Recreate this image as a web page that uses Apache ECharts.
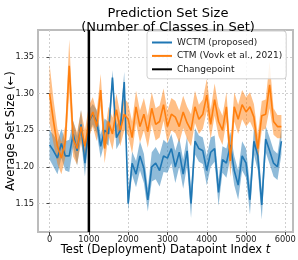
<!DOCTYPE html>
<html><head><meta charset="utf-8">
<script src="https://cdn.jsdelivr.net/npm/echarts@6/dist/echarts.min.js"></script>
<style>html,body{margin:0;padding:0;background:#fff}#c{width:298px;height:260px}</style>
</head><body><div id="c"></div>
<script>
const xIndex = [0,100,200,300,400,500,600,700,800,900,1000,1100,1200,1300,1400,1500,1600,1700,1800,1900,2000,2100,2200,2300,2400,2500,2600,2700,2800,2900,3000,3100,3200,3300,3400,3500,3600,3700,3800,3900,4000,4100,4200,4300,4400,4500,4600,4700,4800,4900,5000,5100,5200,5300,5400,5500,5600,5700,5800,5900];
const wctm = [1.230,1.222,1.212,1.232,1.215,1.215,1.245,1.222,1.258,1.205,1.262,1.272,1.262,1.228,1.250,1.245,1.322,1.240,1.250,1.316,1.150,1.205,1.190,1.215,1.198,1.155,1.200,1.205,1.195,1.215,1.212,1.225,1.200,1.220,1.190,1.222,1.150,1.235,1.225,1.222,1.195,1.220,1.225,1.165,1.210,1.205,1.230,1.195,1.175,1.215,1.205,1.155,1.235,1.215,1.148,1.238,1.222,1.205,1.200,1.235];
const wctmErr = [0.020,0.022,0.022,0.020,0.020,0.022,0.018,0.020,0.020,0.018,0.016,0.014,0.016,0.016,0.016,0.016,0.010,0.016,0.016,0.014,0.010,0.016,0.018,0.020,0.020,0.016,0.020,0.022,0.022,0.022,0.020,0.020,0.022,0.020,0.020,0.020,0.020,0.018,0.018,0.018,0.020,0.020,0.018,0.018,0.018,0.020,0.018,0.020,0.020,0.020,0.020,0.020,0.018,0.020,0.020,0.018,0.018,0.018,0.018,0.018];
const ctm = [1.300,1.262,1.228,1.212,1.235,1.338,1.238,1.225,1.255,1.228,1.262,1.275,1.255,1.305,1.225,1.262,1.245,1.278,1.250,1.272,1.265,1.240,1.282,1.255,1.272,1.248,1.280,1.258,1.262,1.285,1.255,1.272,1.268,1.255,1.275,1.260,1.250,1.282,1.265,1.272,1.298,1.258,1.292,1.262,1.250,1.282,1.208,1.282,1.265,1.285,1.275,1.282,1.268,1.225,1.270,1.272,1.312,1.262,1.255,1.255];
const ctmErr = [0.040,0.030,0.024,0.022,0.022,0.036,0.024,0.022,0.022,0.022,0.022,0.020,0.020,0.022,0.020,0.020,0.022,0.022,0.022,0.022,0.022,0.022,0.022,0.022,0.022,0.022,0.022,0.022,0.022,0.022,0.022,0.022,0.022,0.022,0.022,0.022,0.022,0.022,0.020,0.020,0.022,0.020,0.022,0.020,0.020,0.020,0.022,0.020,0.020,0.020,0.020,0.020,0.018,0.020,0.020,0.020,0.032,0.018,0.016,0.016];
const changepoint = 1000;
const xTicks = [0,1000,2000,3000,4000,5000,6000];
const yTicks = [1.15,1.20,1.25,1.30,1.35];
const seriesNames = ['WCTM (proposed)','CTM (Vovk et al., 2021)','Changepoint'];
const titleLines = ['Prediction Set Size','(Number of Classes in Set)'];

const X_MIN = -295, X_MAX = 6195, Y_MIN = 1.111, Y_MAX = 1.387;
const FONT = 'DejaVu Sans';
const pairs = (ys) => xIndex.map((x,i)=>[x, ys[i]]);

function bandSeries(ys, err, color) {
  return {
    type:'custom', silent:true, z:1, clip:true,
    data: xIndex.map((x,i)=>[x, ys[i]-err[i], ys[i]+err[i]]),
    encode:{x:0, y:[1,2]},
    renderItem:function(params, api){
      if (params.dataIndex !== 0) return null;
      const up = [], lo = [];
      for (let i=0;i<xIndex.length;i++){
        up.push(api.coord([xIndex[i], ys[i]+err[i]]));
        lo.push(api.coord([xIndex[i], ys[i]-err[i]]));
      }
      const pts = up.concat(lo.reverse());
      return {type:'polygon', shape:{points:pts}, style:{fill:color, stroke:null}};
    }
  };
}

const chart = echarts.init(document.getElementById('c'), null, {renderer:'canvas'});
chart.setOption({
  animation:false,
  title:{text:titleLines.join('\n'), left:163, top:2, textAlign:'center',
    textStyle:{fontFamily:FONT, fontSize:13, fontWeight:'normal', color:'#000', lineHeight:13.5}},
  grid:{left:38, right:5, top:30, bottom:28, outerBoundsMode:'none', containLabel:false, show:true, borderColor:'#bcbcbc', borderWidth:2, backgroundColor:'#fff'},
  legend:{orient:'vertical', left:147, top:31, itemWidth:20, itemHeight:2, itemGap:2.4,
    backgroundColor:'rgba(255,255,255,0.85)', borderColor:'#d0d0d0', borderWidth:1, borderRadius:3,
    padding:[6,4,4,5], textStyle:{fontFamily:FONT, fontSize:9, lineHeight:11, color:'#222'},
    data:seriesNames.map(n=>({name:n, icon:'rect'}))},
  xAxis:{type:'value', min:X_MIN, max:X_MAX,
    name:'Test (Deployment) Datapoint Index {i|t}', nameLocation:'middle', nameGap:12, nameMoveOverlap:false,
    nameTextStyle:{fontFamily:FONT, fontSize:11.5, color:'#000', rich:{i:{fontFamily:FONT, fontSize:11.5, fontStyle:'italic'}}},
    axisLine:{show:false},
    axisTick:{show:true, customValues:xTicks, length:3, lineStyle:{color:'#444', width:1}},
    axisLabel:{customValues:xTicks, fontFamily:FONT, fontSize:8.3, color:'#222', margin:4, formatter:v=>String(v)},
    splitLine:{show:true, lineStyle:{color:'#cfcfcf', type:[2,2], width:1}}},
  yAxis:{type:'value', min:Y_MIN, max:Y_MAX,
    name:'Average Set Size (\u2190)', nameLocation:'middle', nameGap:21, nameMoveOverlap:false,
    nameTextStyle:{fontFamily:FONT, fontSize:11.5, color:'#000'},
    axisLine:{show:false},
    axisTick:{show:true, customValues:yTicks, length:3, lineStyle:{color:'#444', width:1}},
    axisLabel:{customValues:yTicks, fontFamily:FONT, fontSize:8.3, color:'#222', margin:4, formatter:v=>v.toFixed(2)},
    splitLine:{show:true, lineStyle:{color:'#cfcfcf', type:[2,2], width:1}}},
  series:[
    bandSeries(wctm, wctmErr, 'rgba(31,119,180,0.5)'),
    bandSeries(ctm, ctmErr, 'rgba(255,127,14,0.5)'),
    {type:'line', name:seriesNames[0], data:pairs(wctm), symbol:'none', color:'#1f77b4', lineStyle:{width:1.6, color:'#1f77b4'}, z:3},
    {type:'line', name:seriesNames[1], data:pairs(ctm), symbol:'none', color:'#ff7f0e', lineStyle:{width:1.6, color:'#ff7f0e'}, z:4},
    {type:'line', name:seriesNames[2], data:[[changepoint, Y_MIN],[changepoint, Y_MAX]], symbol:'none', color:'#000', lineStyle:{width:2.5, color:'#000'}, z:5}
  ]
});
</script></body></html>
